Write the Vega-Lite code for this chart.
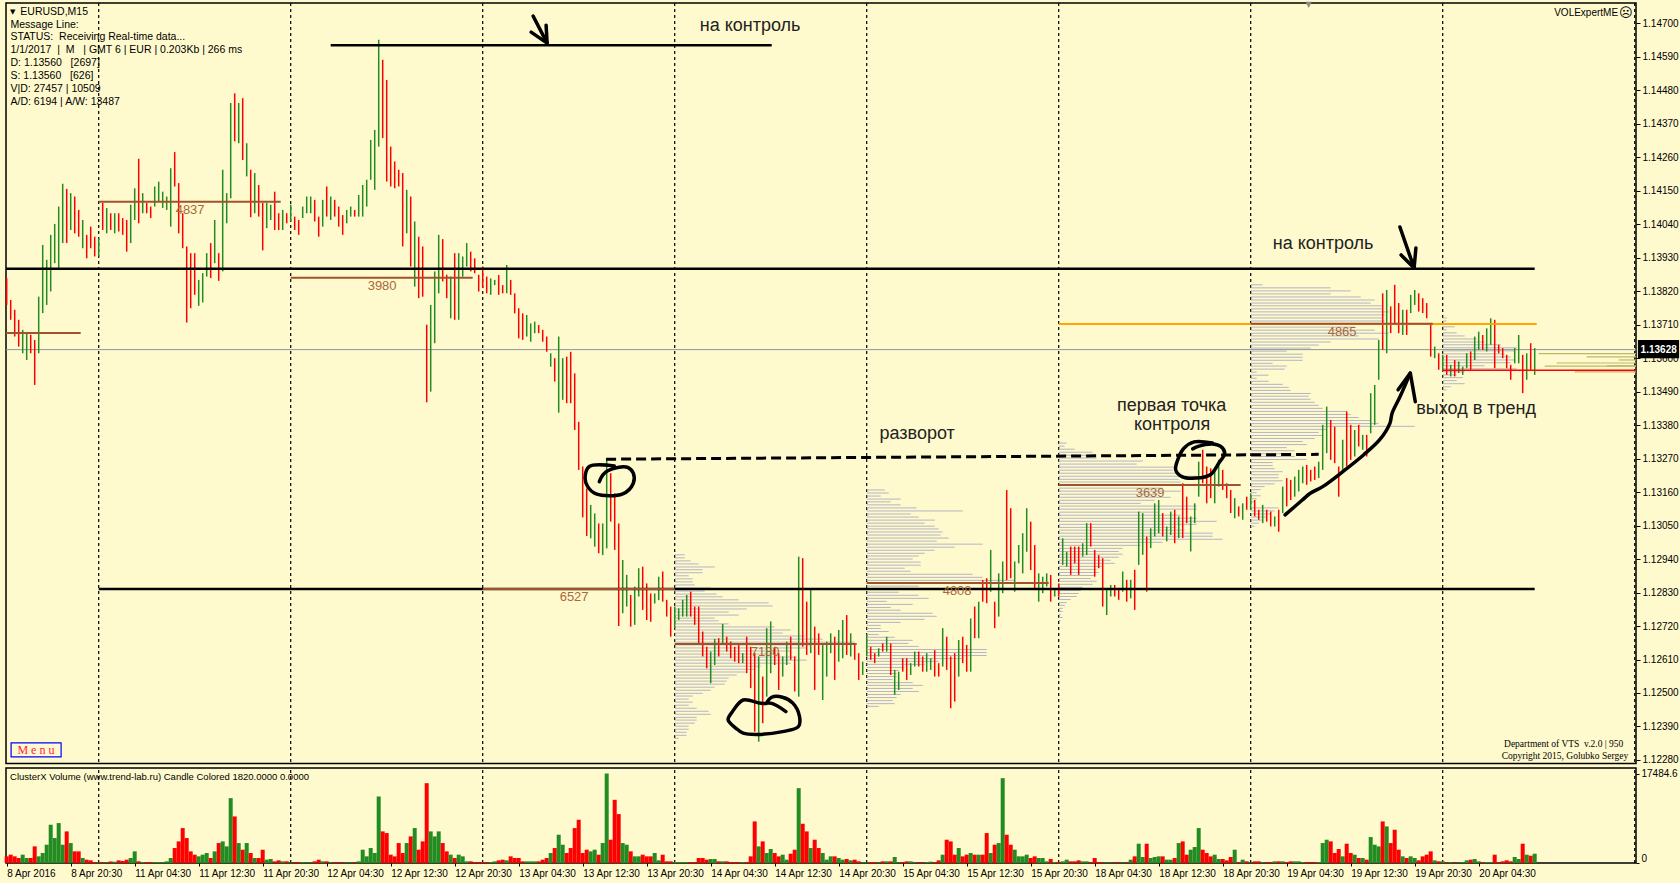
{"$schema":"https://vega.github.io/schema/vega-lite/v6.json","background":"#FFFACD","padding":{"left":3,"top":0,"right":0,"bottom":0},"spacing":0,
"config":{"view":{"fill":"#FFFACD","stroke":"#000000","strokeWidth":1.5},"font":"Liberation Sans"},
"datasets":{
"bars":[{"i":0,"p":1.13863,"q":1.13775,"c":"r","v":1300},{"i":2,"p":1.13791,"q":1.13726,"c":"r","v":1625},{"i":4,"p":1.13759,"q":1.13671,"c":"r","v":1300},{"i":6,"p":1.13726,"q":1.13638,"c":"r","v":975},{"i":8,"p":1.13693,"q":1.13616,"c":"g","v":1625},{"i":10,"p":1.13682,"q":1.13594,"c":"g","v":975},{"i":12,"p":1.13677,"q":1.13616,"c":"r","v":975},{"i":14,"p":1.1366,"q":1.13512,"c":"r","v":3250},{"i":16,"p":1.13802,"q":1.13616,"c":"g","v":1300},{"i":18,"p":1.13972,"q":1.13748,"c":"g","v":1950},{"i":20,"p":1.13923,"q":1.13775,"c":"g","v":3575},{"i":22,"p":1.14005,"q":1.13819,"c":"g","v":7475},{"i":24,"p":1.14041,"q":1.13912,"c":"g","v":4875},{"i":26,"p":1.14098,"q":1.1389,"c":"g","v":7800},{"i":28,"p":1.14173,"q":1.13978,"c":"g","v":3575},{"i":30,"p":1.14156,"q":1.13978,"c":"r","v":6175},{"i":32,"p":1.14142,"q":1.14021,"c":"g","v":3900},{"i":34,"p":1.14131,"q":1.1401,"c":"r","v":2275},{"i":36,"p":1.14087,"q":1.13999,"c":"r","v":2275},{"i":38,"p":1.14054,"q":1.13961,"c":"g","v":975},{"i":40,"p":1.14005,"q":1.13928,"c":"r","v":650},{"i":42,"p":1.14032,"q":1.13961,"c":"r","v":520},{"i":44,"p":1.13999,"q":1.13934,"c":"r","v":200},{"i":46,"p":1.13994,"q":1.13934,"c":"g","v":130},
{"i":48,"p":1.1411,"q":1.14021,"c":"r","v":200},{"i":50,"p":1.14093,"q":1.1401,"c":"g","v":130},{"i":52,"p":1.14076,"q":1.14021,"c":"r","v":300},{"i":54,"p":1.14076,"q":1.1401,"c":"g","v":250},{"i":56,"p":1.14076,"q":1.14016,"c":"r","v":520},{"i":58,"p":1.1406,"q":1.14005,"c":"r","v":400},{"i":60,"p":1.14054,"q":1.1395,"c":"r","v":650},{"i":62,"p":1.14104,"q":1.13978,"c":"g","v":975},{"i":64,"p":1.14158,"q":1.14054,"c":"g","v":2275},{"i":66,"p":1.14255,"q":1.14043,"c":"r","v":325},{"i":68,"p":1.14142,"q":1.14076,"c":"g","v":200},{"i":70,"p":1.1411,"q":1.14076,"c":"r","v":200},{"i":72,"p":1.14098,"q":1.1406,"c":"r","v":200},{"i":74,"p":1.14164,"q":1.14098,"c":"g","v":200},{"i":76,"p":1.1418,"q":1.14115,"c":"g","v":200},{"i":78,"p":1.14147,"q":1.14093,"c":"g","v":200},{"i":80,"p":1.14131,"q":1.14087,"c":"g","v":325},{"i":82,"p":1.14224,"q":1.14032,"c":"g","v":975},{"i":84,"p":1.14277,"q":1.14164,"c":"r","v":2925},{"i":86,"p":1.14175,"q":1.1401,"c":"r","v":4225},{"i":88,"p":1.14076,"q":1.13961,"c":"r","v":6825},{"i":90,"p":1.13967,"q":1.13717,"c":"r","v":4875},{"i":92,"p":1.13945,"q":1.13764,"c":"r","v":2275},{"i":94,"p":1.13945,"q":1.13808,"c":"r","v":1625},{"i":96,"p":1.13857,"q":1.13772,"c":"g","v":1300},{"i":98,"p":1.13879,"q":1.13783,"c":"g","v":1625},{"i":100,"p":1.13945,"q":1.13868,"c":"g","v":1950},{"i":102,"p":1.13978,"q":1.13863,"c":"r","v":975},{"i":104,"p":1.14054,"q":1.13912,"c":"g","v":2275},{"i":106,"p":1.13945,"q":1.13854,"c":"r","v":3900},{"i":108,"p":1.14219,"q":1.13885,"c":"g","v":4225},{"i":110,"p":1.14142,"q":1.14043,"c":"g","v":3250},{"i":112,"p":1.14438,"q":1.14125,"c":"g","v":12675},{"i":114,"p":1.1447,"q":1.14312,"c":"r","v":9100},{"i":116,"p":1.14438,"q":1.14306,"c":"g","v":3900},{"i":118,"p":1.14454,"q":1.14251,"c":"r","v":2600},{"i":120,"p":1.14306,"q":1.14197,"c":"g","v":3900},{"i":122,"p":1.14219,"q":1.14063,"c":"r","v":1950},{"i":124,"p":1.14208,"q":1.14076,"c":"g","v":975},{"i":126,"p":1.14169,"q":1.14065,"c":"r","v":975},{"i":128,"p":1.1411,"q":1.13954,"c":"r","v":2600},{"i":130,"p":1.1411,"q":1.14027,"c":"g","v":650},{"i":132,"p":1.14104,"q":1.14054,"c":"g","v":780},{"i":134,"p":1.14147,"q":1.14021,"c":"r","v":325},{"i":136,"p":1.14076,"q":1.14021,"c":"r","v":520},{"i":138,"p":1.14087,"q":1.14021,"c":"g","v":325},{"i":140,"p":1.14076,"q":1.14043,"c":"r","v":325},{"i":142,"p":1.14104,"q":1.14049,"c":"g","v":130},
{"i":144,"p":1.14065,"q":1.14021,"c":"r","v":130},{"i":146,"p":1.14054,"q":1.14005,"c":"r","v":195},{"i":148,"p":1.14098,"q":1.1406,"c":"g","v":195},{"i":150,"p":1.14131,"q":1.14076,"c":"g","v":130},{"i":152,"p":1.14131,"q":1.14076,"c":"g","v":130},{"i":154,"p":1.1412,"q":1.14049,"c":"r","v":325},{"i":156,"p":1.14065,"q":1.13999,"c":"r","v":650},{"i":158,"p":1.1412,"q":1.14032,"c":"g","v":325},{"i":160,"p":1.14164,"q":1.14065,"c":"r","v":325},{"i":162,"p":1.14131,"q":1.14054,"c":"g","v":130},{"i":164,"p":1.1412,"q":1.14065,"c":"r","v":130},{"i":166,"p":1.14098,"q":1.14032,"c":"r","v":130},{"i":168,"p":1.1407,"q":1.14005,"c":"r","v":130},{"i":170,"p":1.14087,"q":1.14043,"c":"g","v":130},{"i":172,"p":1.14098,"q":1.14065,"c":"g","v":130},{"i":174,"p":1.14087,"q":1.14065,"c":"r","v":130},{"i":176,"p":1.14136,"q":1.14065,"c":"g","v":325},{"i":178,"p":1.14169,"q":1.14065,"c":"g","v":2600},{"i":180,"p":1.14186,"q":1.14098,"c":"g","v":1300},{"i":182,"p":1.14317,"q":1.14186,"c":"g","v":2925},{"i":184,"p":1.1435,"q":1.14153,"c":"g","v":1950},{"i":186,"p":1.14646,"q":1.14295,"c":"g","v":13000},{"i":188,"p":1.1458,"q":1.14323,"c":"r","v":6175},{"i":190,"p":1.14514,"q":1.1418,"c":"r","v":5850},{"i":192,"p":1.14295,"q":1.14164,"c":"r","v":1625},{"i":194,"p":1.14246,"q":1.14158,"c":"r","v":1300},{"i":196,"p":1.14219,"q":1.14164,"c":"r","v":3900},{"i":198,"p":1.14208,"q":1.13967,"c":"r","v":1950},{"i":200,"p":1.14153,"q":1.1401,"c":"g","v":3900},{"i":202,"p":1.14131,"q":1.13901,"c":"r","v":5200},{"i":204,"p":1.14049,"q":1.13835,"c":"g","v":6825},{"i":206,"p":1.13999,"q":1.13797,"c":"r","v":2600},{"i":208,"p":1.13967,"q":1.13802,"c":"r","v":4225},{"i":210,"p":1.1371,"q":1.13455,"c":"r","v":15600},{"i":212,"p":1.13775,"q":1.1349,"c":"g","v":6175},{"i":214,"p":1.13885,"q":1.13649,"c":"g","v":5200},{"i":216,"p":1.14005,"q":1.13813,"c":"g","v":6175},{"i":218,"p":1.13991,"q":1.13852,"c":"r","v":3900},{"i":220,"p":1.13874,"q":1.13797,"c":"r","v":2275},{"i":222,"p":1.13868,"q":1.13731,"c":"g","v":1625},{"i":224,"p":1.13945,"q":1.13726,"c":"r","v":975},{"i":226,"p":1.13945,"q":1.13726,"c":"g","v":1625},{"i":228,"p":1.13934,"q":1.13868,"c":"g","v":1300},{"i":230,"p":1.13978,"q":1.13901,"c":"g","v":325},{"i":232,"p":1.1395,"q":1.13885,"c":"r","v":325},{"i":234,"p":1.13928,"q":1.13879,"c":"r","v":195},{"i":236,"p":1.13874,"q":1.13819,"c":"r","v":195},{"i":238,"p":1.13901,"q":1.1383,"c":"r","v":195},
{"i":240,"p":1.13868,"q":1.13813,"c":"r","v":195},{"i":242,"p":1.13862,"q":1.13808,"c":"g","v":195},{"i":244,"p":1.13857,"q":1.1384,"c":"g","v":325},{"i":246,"p":1.13873,"q":1.13808,"c":"r","v":520},{"i":248,"p":1.1384,"q":1.13813,"c":"r","v":650},{"i":250,"p":1.13906,"q":1.13813,"c":"g","v":520},{"i":252,"p":1.13857,"q":1.13808,"c":"r","v":1300},{"i":254,"p":1.13813,"q":1.13747,"c":"r","v":975},{"i":256,"p":1.13764,"q":1.13665,"c":"r","v":975},{"i":258,"p":1.13747,"q":1.1366,"c":"r","v":325},{"i":260,"p":1.13742,"q":1.13671,"c":"g","v":325},{"i":262,"p":1.13714,"q":1.13654,"c":"g","v":325},{"i":264,"p":1.1372,"q":1.13682,"c":"g","v":325},{"i":266,"p":1.13709,"q":1.13682,"c":"r","v":325},{"i":268,"p":1.13693,"q":1.13654,"c":"r","v":650},{"i":270,"p":1.13671,"q":1.13621,"c":"r","v":975},{"i":272,"p":1.13616,"q":1.13572,"c":"g","v":1950},{"i":274,"p":1.136,"q":1.13523,"c":"r","v":2925},{"i":276,"p":1.13671,"q":1.13421,"c":"g","v":5525},{"i":278,"p":1.136,"q":1.13463,"c":"g","v":3575},{"i":280,"p":1.13605,"q":1.13452,"c":"r","v":1950},{"i":282,"p":1.13621,"q":1.13452,"c":"r","v":2925},{"i":284,"p":1.1355,"q":1.13364,"c":"r","v":6825},{"i":286,"p":1.13391,"q":1.13233,"c":"r","v":8450},{"i":288,"p":1.13244,"q":1.13077,"c":"r","v":1950},{"i":290,"p":1.13172,"q":1.13016,"c":"r","v":2600},{"i":292,"p":1.13118,"q":1.13008,"c":"g","v":2275},{"i":294,"p":1.1309,"q":1.12981,"c":"g","v":2600},{"i":296,"p":1.13057,"q":1.12959,"c":"r","v":1625},{"i":298,"p":1.13057,"q":1.12953,"c":"g","v":3900},{"i":300,"p":1.13271,"q":1.12975,"c":"g","v":17484},{"i":302,"p":1.13222,"q":1.13063,"c":"r","v":4550},{"i":304,"p":1.13156,"q":1.1297,"c":"r","v":12350},{"i":306,"p":1.13057,"q":1.1272,"c":"r","v":9555},{"i":308,"p":1.12937,"q":1.12762,"c":"g","v":3900},{"i":310,"p":1.12888,"q":1.12784,"c":"g","v":3575},{"i":312,"p":1.12822,"q":1.12718,"c":"r","v":2275},{"i":314,"p":1.12849,"q":1.12724,"c":"g","v":1300},{"i":316,"p":1.1291,"q":1.12817,"c":"g","v":1300},{"i":318,"p":1.12915,"q":1.12773,"c":"r","v":1625},{"i":320,"p":1.1286,"q":1.1274,"c":"r","v":1300},{"i":322,"p":1.12827,"q":1.12734,"c":"r","v":1300},{"i":324,"p":1.12827,"q":1.12794,"c":"g","v":1950},{"i":326,"p":1.12882,"q":1.12805,"c":"g","v":520},
{"i":328,"p":1.12899,"q":1.128,"c":"r","v":1625},{"i":330,"p":1.12806,"q":1.12751,"c":"r","v":325},{"i":332,"p":1.12784,"q":1.12685,"c":"r","v":325},{"i":334,"p":1.12784,"q":1.12713,"c":"g","v":195},{"i":336,"p":1.12778,"q":1.1274,"c":"g","v":195},{"i":338,"p":1.12806,"q":1.12751,"c":"g","v":195},{"i":340,"p":1.12822,"q":1.12751,"c":"g","v":195},{"i":342,"p":1.12833,"q":1.12751,"c":"r","v":195},{"i":344,"p":1.12784,"q":1.12724,"c":"r","v":195},{"i":346,"p":1.12784,"q":1.12663,"c":"r","v":975},{"i":348,"p":1.12702,"q":1.1262,"c":"r","v":975},{"i":350,"p":1.12652,"q":1.12581,"c":"r","v":650},{"i":352,"p":1.12636,"q":1.12532,"c":"g","v":780},{"i":354,"p":1.12678,"q":1.12592,"c":"g","v":780},{"i":356,"p":1.1268,"q":1.1262,"c":"r","v":325},{"i":358,"p":1.12727,"q":1.12658,"c":"g","v":325},{"i":360,"p":1.12685,"q":1.12636,"c":"r","v":325},{"i":362,"p":1.12669,"q":1.12614,"c":"r","v":195},{"i":364,"p":1.12652,"q":1.12603,"c":"r","v":195},{"i":366,"p":1.12658,"q":1.12598,"c":"r","v":195},{"i":368,"p":1.12631,"q":1.12598,"c":"g","v":195},{"i":370,"p":1.12685,"q":1.12565,"c":"r","v":195},{"i":372,"p":1.12652,"q":1.12516,"c":"r","v":1300},{"i":374,"p":1.12631,"q":1.12373,"c":"r","v":8125},{"i":376,"p":1.1262,"q":1.1234,"c":"g","v":3250},{"i":378,"p":1.12554,"q":1.12401,"c":"r","v":4225},{"i":380,"p":1.12713,"q":1.12488,"c":"g","v":1950},{"i":382,"p":1.12735,"q":1.12565,"c":"g","v":2730},{"i":384,"p":1.12652,"q":1.12592,"c":"r","v":1950},{"i":386,"p":1.12631,"q":1.1251,"c":"r","v":1300},{"i":388,"p":1.1262,"q":1.12554,"c":"g","v":1625},{"i":390,"p":1.12669,"q":1.12592,"c":"g","v":650},{"i":392,"p":1.12685,"q":1.12609,"c":"r","v":1820},{"i":394,"p":1.1262,"q":1.12505,"c":"r","v":2600},{"i":396,"p":1.12948,"q":1.12488,"c":"g","v":14625},{"i":398,"p":1.12943,"q":1.12652,"c":"r","v":7670},{"i":400,"p":1.128,"q":1.12625,"c":"r","v":6175},{"i":402,"p":1.12839,"q":1.12631,"c":"g","v":2925},{"i":404,"p":1.12718,"q":1.1251,"c":"r","v":4550},{"i":406,"p":1.12696,"q":1.12625,"c":"r","v":2925},{"i":408,"p":1.12663,"q":1.12477,"c":"g","v":1950},{"i":410,"p":1.12669,"q":1.12554,"c":"g","v":650},{"i":412,"p":1.12696,"q":1.12631,"c":"g","v":1300},{"i":414,"p":1.12685,"q":1.12543,"c":"r","v":1300},{"i":416,"p":1.12707,"q":1.12603,"c":"g","v":975},{"i":418,"p":1.1274,"q":1.12614,"c":"g","v":650},{"i":420,"p":1.12756,"q":1.12625,"c":"r","v":780},{"i":422,"p":1.12696,"q":1.1262,"c":"g","v":520},{"i":424,"p":1.12663,"q":1.12609,"c":"r","v":650},{"i":426,"p":1.12631,"q":1.12543,"c":"r","v":325},{"i":428,"p":1.12603,"q":1.12559,"c":"g","v":130},{"i":430,"p":1.12691,"q":1.1262,"c":"g","v":130},{"i":432,"p":1.12652,"q":1.12609,"c":"r","v":195},{"i":434,"p":1.12631,"q":1.12598,"c":"r","v":195},{"i":436,"p":1.12647,"q":1.1262,"c":"g","v":130},{"i":438,"p":1.12663,"q":1.12636,"c":"r","v":325},{"i":440,"p":1.12685,"q":1.12636,"c":"g","v":325},{"i":442,"p":1.12663,"q":1.12559,"c":"r","v":325},{"i":444,"p":1.12576,"q":1.12494,"c":"g","v":1170},{"i":446,"p":1.1257,"q":1.1251,"c":"g","v":130},{"i":448,"p":1.12614,"q":1.1257,"c":"r","v":195},{"i":450,"p":1.12614,"q":1.12543,"c":"r","v":325},{"i":452,"p":1.12598,"q":1.12559,"c":"g","v":325},{"i":454,"p":1.12636,"q":1.12587,"c":"g","v":130},{"i":456,"p":1.12636,"q":1.12587,"c":"r","v":130},{"i":458,"p":1.1262,"q":1.1257,"c":"r","v":130},{"i":460,"p":1.12631,"q":1.1257,"c":"g","v":195},{"i":462,"p":1.12614,"q":1.12576,"c":"g","v":260},{"i":464,"p":1.12641,"q":1.12554,"c":"r","v":195},{"i":466,"p":1.12598,"q":1.12554,"c":"r","v":520},{"i":468,"p":1.12713,"q":1.12587,"c":"g","v":1625},{"i":470,"p":1.12685,"q":1.12576,"c":"r","v":4550},{"i":472,"p":1.1262,"q":1.1245,"c":"r","v":4225},{"i":474,"p":1.12631,"q":1.12472,"c":"r","v":1625},{"i":476,"p":1.12674,"q":1.12554,"c":"g","v":2925},{"i":478,"p":1.12685,"q":1.12598,"c":"r","v":1300},{"i":480,"p":1.12658,"q":1.1257,"c":"r","v":1625},{"i":482,"p":1.12745,"q":1.1257,"c":"g","v":1950},{"i":484,"p":1.12784,"q":1.1268,"c":"r","v":1625},{"i":486,"p":1.128,"q":1.1268,"c":"g","v":1625},{"i":488,"p":1.12871,"q":1.128,"c":"r","v":1625},{"i":490,"p":1.12877,"q":1.12795,"c":"r","v":5850},{"i":492,"p":1.1297,"q":1.12833,"c":"g","v":1950},{"i":494,"p":1.128,"q":1.12713,"c":"r","v":3575},{"i":496,"p":1.12893,"q":1.12751,"c":"g","v":3900},{"i":498,"p":1.12932,"q":1.12828,"c":"g","v":16575},{"i":500,"p":1.13167,"q":1.12871,"c":"r","v":5525},{"i":502,"p":1.13107,"q":1.12877,"c":"r","v":3575},{"i":504,"p":1.12932,"q":1.12833,"c":"g","v":2600},{"i":506,"p":1.12986,"q":1.12926,"c":"g","v":1300},{"i":508,"p":1.13025,"q":1.12893,"c":"g","v":1300},{"i":510,"p":1.13107,"q":1.12964,"c":"g","v":1625},{"i":512,"p":1.13063,"q":1.12904,"c":"r","v":975},{"i":514,"p":1.12986,"q":1.12839,"c":"r","v":1300},{"i":516,"p":1.12893,"q":1.128,"c":"g","v":975},{"i":518,"p":1.12882,"q":1.12828,"c":"g","v":975},{"i":520,"p":1.12893,"q":1.1285,"c":"g","v":325},{"i":522,"p":1.12888,"q":1.128,"c":"r","v":780},{"i":524,"p":1.12844,"q":1.12817,"c":"g","v":195},{"i":526,"p":1.1286,"q":1.12817,"c":"r","v":195},{"i":528,"p":1.13008,"q":1.12921,"c":"g","v":325},{"i":530,"p":1.12964,"q":1.12915,"c":"g","v":650},{"i":532,"p":1.12981,"q":1.12888,"c":"r","v":325},{"i":534,"p":1.12981,"q":1.12926,"c":"r","v":325},{"i":536,"p":1.12981,"q":1.12888,"c":"r","v":520},{"i":538,"p":1.12992,"q":1.12948,"c":"g","v":325},{"i":540,"p":1.13058,"q":1.12953,"c":"g","v":325},{"i":542,"p":1.13058,"q":1.12981,"c":"r","v":130},{"i":544,"p":1.1297,"q":1.12882,"c":"r","v":975},{"i":546,"p":1.12953,"q":1.1291,"c":"r","v":195},{"i":548,"p":1.12943,"q":1.12784,"c":"r","v":130},{"i":550,"p":1.12839,"q":1.12756,"c":"g","v":130},{"i":552,"p":1.12855,"q":1.12817,"c":"g","v":130},{"i":554,"p":1.12855,"q":1.12817,"c":"r","v":130},{"i":556,"p":1.12844,"q":1.12806,"c":"r","v":130},
{"i":558,"p":1.12899,"q":1.12833,"c":"g","v":130},{"i":560,"p":1.12872,"q":1.128,"c":"r","v":130},{"i":562,"p":1.12872,"q":1.12811,"c":"g","v":650},{"i":564,"p":1.12905,"q":1.12773,"c":"r","v":1300},{"i":566,"p":1.13096,"q":1.12921,"c":"g","v":3770},{"i":568,"p":1.13091,"q":1.12954,"c":"g","v":1170},{"i":570,"p":1.13014,"q":1.12833,"c":"r","v":3770},{"i":572,"p":1.13041,"q":1.12976,"c":"g","v":975},{"i":574,"p":1.13123,"q":1.13014,"c":"g","v":1170},{"i":576,"p":1.13134,"q":1.13025,"c":"g","v":1300},{"i":578,"p":1.13091,"q":1.13014,"c":"r","v":1300},{"i":580,"p":1.13047,"q":1.12998,"c":"g","v":650},{"i":582,"p":1.13096,"q":1.13019,"c":"g","v":650},{"i":584,"p":1.13102,"q":1.12992,"c":"r","v":975},{"i":586,"p":1.1308,"q":1.13009,"c":"g","v":3900},{"i":588,"p":1.13189,"q":1.13009,"c":"r","v":4225},{"i":590,"p":1.13145,"q":1.13058,"c":"r","v":1625},{"i":592,"p":1.1308,"q":1.12965,"c":"g","v":2600},{"i":594,"p":1.13123,"q":1.13058,"c":"g","v":3120},{"i":596,"p":1.1326,"q":1.13145,"c":"g","v":6825},{"i":598,"p":1.13299,"q":1.13189,"c":"r","v":2600},{"i":600,"p":1.13244,"q":1.13123,"c":"r","v":1950},{"i":602,"p":1.13238,"q":1.1314,"c":"r","v":1300},{"i":604,"p":1.13233,"q":1.13123,"c":"g","v":1625},{"i":606,"p":1.13266,"q":1.13178,"c":"g","v":780},{"i":608,"p":1.13233,"q":1.13167,"c":"r","v":780},{"i":610,"p":1.13189,"q":1.1314,"c":"r","v":520},{"i":612,"p":1.13167,"q":1.13091,"c":"r","v":1170},{"i":614,"p":1.1314,"q":1.13074,"c":"g","v":2600},{"i":616,"p":1.13113,"q":1.1308,"c":"r","v":195},{"i":618,"p":1.13123,"q":1.13069,"c":"g","v":650},{"i":620,"p":1.13145,"q":1.13102,"c":"r","v":325},{"i":622,"p":1.13156,"q":1.13102,"c":"g","v":130},{"i":624,"p":1.13134,"q":1.1308,"c":"r","v":325},{"i":626,"p":1.13102,"q":1.13069,"c":"r","v":325},{"i":628,"p":1.13118,"q":1.13058,"c":"g","v":130},{"i":630,"p":1.13102,"q":1.13063,"c":"r","v":130},{"i":632,"p":1.13096,"q":1.13047,"c":"r","v":195},{"i":634,"p":1.1308,"q":1.13047,"c":"g","v":325},{"i":636,"p":1.13102,"q":1.1303,"c":"r","v":325},{"i":638,"p":1.13178,"q":1.13091,"c":"g","v":325},{"i":640,"p":1.13206,"q":1.13113,"c":"r","v":195},{"i":642,"p":1.132,"q":1.13134,"c":"r","v":325},{"i":644,"p":1.13211,"q":1.13145,"c":"g","v":325},{"i":646,"p":1.13233,"q":1.13162,"c":"g","v":325},{"i":648,"p":1.13244,"q":1.13189,"c":"g","v":195},{"i":650,"p":1.13249,"q":1.13184,"c":"r","v":195},{"i":652,"p":1.13233,"q":1.13195,"c":"r","v":130},{"i":654,"p":1.13244,"q":1.132,"c":"r","v":195},{"i":656,"p":1.1326,"q":1.13206,"c":"g","v":195},{"i":658,"p":1.13381,"q":1.13233,"c":"g","v":3900},{"i":660,"p":1.13441,"q":1.13288,"c":"g","v":4550},{"i":662,"p":1.13397,"q":1.13266,"c":"r","v":4225},{"i":664,"p":1.13375,"q":1.13255,"c":"r","v":1950},{"i":666,"p":1.13244,"q":1.13145,"c":"r","v":2730},{"i":668,"p":1.13332,"q":1.13222,"c":"g","v":1300},{"i":670,"p":1.13425,"q":1.13244,"c":"r","v":3770},{"i":672,"p":1.13381,"q":1.13266,"c":"r","v":1950},{"i":674,"p":1.13364,"q":1.13277,"c":"g","v":1625},{"i":676,"p":1.13381,"q":1.1331,"c":"r","v":975},{"i":678,"p":1.13348,"q":1.13299,"c":"g","v":975},{"i":680,"p":1.13348,"q":1.13277,"c":"r","v":650},{"i":682,"p":1.13485,"q":1.13353,"c":"g","v":5070},{"i":684,"p":1.13512,"q":1.13381,"c":"g","v":3575},{"i":686,"p":1.1366,"q":1.13529,"c":"g","v":3250},{"i":688,"p":1.13813,"q":1.13627,"c":"r","v":8125},{"i":690,"p":1.13824,"q":1.13616,"c":"g","v":7150},{"i":692,"p":1.1377,"q":1.13682,"c":"r","v":3900},{"i":694,"p":1.13841,"q":1.13715,"c":"r","v":6500},{"i":696,"p":1.13781,"q":1.13682,"c":"r","v":2600},{"i":698,"p":1.13759,"q":1.13676,"c":"g","v":1300},{"i":700,"p":1.13759,"q":1.13676,"c":"r","v":975},{"i":702,"p":1.13808,"q":1.13748,"c":"g","v":1300},{"i":704,"p":1.13824,"q":1.13775,"c":"g","v":975},{"i":706,"p":1.13813,"q":1.13753,"c":"r","v":520},{"i":708,"p":1.13797,"q":1.13748,"c":"r","v":1300},{"i":710,"p":1.13781,"q":1.13731,"c":"r","v":1625},{"i":712,"p":1.13715,"q":1.13605,"c":"r","v":2275},{"i":714,"p":1.13638,"q":1.136,"c":"g","v":520},{"i":716,"p":1.13616,"q":1.13562,"c":"r","v":325},{"i":718,"p":1.13611,"q":1.13556,"c":"g","v":325},{"i":720,"p":1.13611,"q":1.13545,"c":"r","v":130},{"i":722,"p":1.13578,"q":1.1354,"c":"g","v":195},{"i":724,"p":1.13594,"q":1.1354,"c":"r","v":130},{"i":726,"p":1.13589,"q":1.13551,"c":"g","v":130},{"i":728,"p":1.13572,"q":1.13545,"c":"g","v":195},{"i":730,"p":1.13616,"q":1.13567,"c":"g","v":520},{"i":732,"p":1.13622,"q":1.13562,"c":"r","v":650},{"i":734,"p":1.13671,"q":1.13594,"c":"g","v":780},{"i":736,"p":1.13687,"q":1.13627,"c":"g","v":325},{"i":738,"p":1.13676,"q":1.13627,"c":"r","v":195},{"i":740,"p":1.13698,"q":1.13622,"c":"g","v":195},{"i":742,"p":1.13731,"q":1.13644,"c":"g","v":195},{"i":744,"p":1.13726,"q":1.13567,"c":"r","v":1625},{"i":746,"p":1.13644,"q":1.13616,"c":"r","v":195},{"i":748,"p":1.13633,"q":1.136,"c":"r","v":325},{"i":750,"p":1.13611,"q":1.13567,"c":"r","v":520},{"i":752,"p":1.13578,"q":1.13529,"c":"r","v":325},{"i":754,"p":1.13633,"q":1.13583,"c":"g","v":1170},{"i":756,"p":1.13676,"q":1.13583,"c":"g","v":780},{"i":758,"p":1.13611,"q":1.13485,"c":"r","v":3770},{"i":760,"p":1.13616,"q":1.13529,"c":"g","v":1625},{"i":762,"p":1.13649,"q":1.13562,"c":"r","v":1430},{"i":764,"p":1.13633,"q":1.13545,"c":"g","v":1820}],
"prof":[{"i":334,"j":339,"p":1.12954},{"i":334,"j":339,"p":1.12944},{"i":334,"j":342,"p":1.12934},{"i":334,"j":346,"p":1.12924},{"i":334,"j":354,"p":1.12914},{"i":334,"j":348,"p":1.12905},{"i":334,"j":348,"p":1.12895},{"i":334,"j":341,"p":1.12885},{"i":334,"j":343,"p":1.12875},{"i":334,"j":343,"p":1.12865},{"i":334,"j":344,"p":1.12855},{"i":334,"j":352,"p":1.12845},{"i":334,"j":349,"p":1.12835},{"i":334,"j":355,"p":1.12825},{"i":334,"j":358,"p":1.12816},{"i":334,"j":366,"p":1.12806},{"i":334,"j":381,"p":1.12796},{"i":334,"j":383,"p":1.12786},{"i":334,"j":370,"p":1.12776},{"i":334,"j":361,"p":1.12766},{"i":334,"j":366,"p":1.12756},{"i":334,"j":354,"p":1.12746},{"i":334,"j":356,"p":1.12737},{"i":334,"j":361,"p":1.12727},{"i":334,"j":384,"p":1.12717},{"i":334,"j":392,"p":1.12707},{"i":334,"j":388,"p":1.12697},{"i":334,"j":399,"p":1.12687},{"i":334,"j":408,"p":1.12677},{"i":334,"j":424,"p":1.12667},{"i":334,"j":402,"p":1.12658},{"i":334,"j":400,"p":1.12648},{"i":334,"j":392,"p":1.12638},{"i":334,"j":386,"p":1.12628},{"i":334,"j":395,"p":1.12618},{"i":334,"j":400,"p":1.12608},{"i":334,"j":392,"p":1.12598},{"i":334,"j":377,"p":1.12588},{"i":334,"j":374,"p":1.12578},{"i":334,"j":370,"p":1.12569},{"i":334,"j":365,"p":1.12559},{"i":334,"j":361,"p":1.12549},{"i":334,"j":360,"p":1.12539},{"i":334,"j":359,"p":1.12529},{"i":334,"j":354,"p":1.12519},{"i":334,"j":352,"p":1.12509},{"i":334,"j":348,"p":1.12499},{"i":334,"j":343,"p":1.1249},{"i":334,"j":341,"p":1.1248},{"i":334,"j":343,"p":1.1247},{"i":334,"j":341,"p":1.1246},{"i":334,"j":345,"p":1.1245},{"i":334,"j":351,"p":1.1244},{"i":334,"j":352,"p":1.1243},{"i":334,"j":345,"p":1.1242},{"i":334,"j":345,"p":1.12411},{"i":334,"j":344,"p":1.12401},{"i":334,"j":341,"p":1.12391},{"i":334,"j":341,"p":1.12381},{"i":334,"j":340,"p":1.12371},{"i":334,"j":340,"p":1.12361},{"i":334,"j":336,"p":1.12351},
{"i":430,"j":439,"p":1.13167},{"i":430,"j":441,"p":1.13157},{"i":430,"j":437,"p":1.13147},{"i":430,"j":447,"p":1.13137},{"i":430,"j":442,"p":1.13128},{"i":430,"j":447,"p":1.13118},{"i":430,"j":455,"p":1.13108},{"i":430,"j":478,"p":1.13098},{"i":430,"j":452,"p":1.13088},{"i":430,"j":456,"p":1.13078},{"i":430,"j":464,"p":1.13068},{"i":430,"j":459,"p":1.13058},{"i":430,"j":464,"p":1.13048},{"i":430,"j":466,"p":1.13039},{"i":430,"j":468,"p":1.13029},{"i":430,"j":467,"p":1.13019},{"i":430,"j":471,"p":1.13009},{"i":430,"j":465,"p":1.12999},{"i":430,"j":488,"p":1.12989},{"i":430,"j":474,"p":1.12979},{"i":430,"j":464,"p":1.12969},{"i":430,"j":459,"p":1.12959},{"i":430,"j":456,"p":1.1295},{"i":430,"j":453,"p":1.1294},{"i":430,"j":457,"p":1.1293},{"i":430,"j":457,"p":1.1292},{"i":430,"j":449,"p":1.1291},{"i":430,"j":452,"p":1.129},{"i":430,"j":483,"p":1.1289},{"i":430,"j":488,"p":1.1288},{"i":430,"j":504,"p":1.1287},{"i":430,"j":520,"p":1.12861},{"i":430,"j":456,"p":1.12851},{"i":430,"j":456,"p":1.12841},{"i":430,"j":446,"p":1.12831},{"i":430,"j":456,"p":1.12821},{"i":430,"j":461,"p":1.12811},{"i":430,"j":440,"p":1.12801},{"i":430,"j":453,"p":1.12791},{"i":430,"j":442,"p":1.12781},{"i":430,"j":447,"p":1.12772},{"i":430,"j":463,"p":1.12762},{"i":430,"j":465,"p":1.12752},{"i":430,"j":459,"p":1.12742},{"i":430,"j":447,"p":1.12732},{"i":430,"j":437,"p":1.12722},{"i":430,"j":437,"p":1.12712},{"i":430,"j":441,"p":1.12702},{"i":430,"j":436,"p":1.12692},{"i":430,"j":444,"p":1.12683},{"i":430,"j":453,"p":1.12673},{"i":430,"j":451,"p":1.12663},{"i":430,"j":456,"p":1.12653},{"i":430,"j":490,"p":1.12643},{"i":430,"j":490,"p":1.12633},{"i":430,"j":490,"p":1.12623},{"i":430,"j":478,"p":1.12613},{"i":430,"j":466,"p":1.12604},{"i":430,"j":459,"p":1.12594},{"i":430,"j":449,"p":1.12584},{"i":430,"j":446,"p":1.12574},{"i":430,"j":445,"p":1.12564},{"i":430,"j":445,"p":1.12554},{"i":430,"j":443,"p":1.12544},{"i":430,"j":453,"p":1.12534},{"i":430,"j":458,"p":1.12525},{"i":430,"j":453,"p":1.12515},{"i":430,"j":456,"p":1.12505},{"i":430,"j":447,"p":1.12495},{"i":430,"j":445,"p":1.12485},{"i":430,"j":443,"p":1.12475},{"i":430,"j":444,"p":1.12465},{"i":430,"j":436,"p":1.12456},
{"i":526,"j":530,"p":1.13321},{"i":526,"j":529,"p":1.13311},{"i":526,"j":534,"p":1.13301},{"i":526,"j":543,"p":1.13291},{"i":526,"j":544,"p":1.13281},{"i":526,"j":545,"p":1.13272},{"i":526,"j":568,"p":1.13262},{"i":526,"j":565,"p":1.13252},{"i":526,"j":585,"p":1.13242},{"i":526,"j":583,"p":1.13232},{"i":526,"j":585,"p":1.13222},{"i":526,"j":595,"p":1.13212},{"i":526,"j":586,"p":1.13202},{"i":526,"j":587,"p":1.13193},{"i":526,"j":591,"p":1.13183},{"i":526,"j":578,"p":1.13173},{"i":526,"j":587,"p":1.13163},{"i":526,"j":576,"p":1.13153},{"i":526,"j":582,"p":1.13143},{"i":526,"j":574,"p":1.13133},{"i":526,"j":567,"p":1.13123},{"i":526,"j":595,"p":1.13114},{"i":526,"j":595,"p":1.13104},{"i":526,"j":576,"p":1.13094},{"i":526,"j":587,"p":1.13084},{"i":526,"j":595,"p":1.13074},{"i":526,"j":605,"p":1.13064},{"i":526,"j":595,"p":1.13054},{"i":526,"j":585,"p":1.13044},{"i":526,"j":589,"p":1.13035},{"i":526,"j":603,"p":1.13025},{"i":526,"j":603,"p":1.13015},{"i":526,"j":608,"p":1.13005},{"i":526,"j":578,"p":1.12995},{"i":526,"j":567,"p":1.12985},{"i":526,"j":558,"p":1.12975},{"i":526,"j":556,"p":1.12965},{"i":526,"j":558,"p":1.12956},{"i":526,"j":556,"p":1.12946},{"i":526,"j":552,"p":1.12936},{"i":526,"j":554,"p":1.12926},{"i":526,"j":548,"p":1.12916},{"i":526,"j":545,"p":1.12906},{"i":526,"j":546,"p":1.12896},{"i":526,"j":544,"p":1.12886},{"i":526,"j":542,"p":1.12876},{"i":526,"j":545,"p":1.12867},{"i":526,"j":543,"p":1.12857},{"i":526,"j":538,"p":1.12847},{"i":526,"j":537,"p":1.12837},{"i":526,"j":536,"p":1.12827},{"i":526,"j":535,"p":1.12817},{"i":526,"j":532,"p":1.12807},{"i":526,"j":530,"p":1.12797},{"i":526,"j":529,"p":1.12788},{"i":526,"j":528,"p":1.12778},{"i":526,"j":528,"p":1.12768},{"i":526,"j":527,"p":1.12758},{"i":526,"j":528,"p":1.12748},{"i":526,"j":527,"p":1.12738},
{"i":622,"j":628,"p":1.13841},{"i":622,"j":662,"p":1.13831},{"i":622,"j":672,"p":1.13821},{"i":622,"j":662,"p":1.13811},{"i":622,"j":677,"p":1.13801},{"i":622,"j":684,"p":1.13791},{"i":622,"j":682,"p":1.13781},{"i":622,"j":688,"p":1.13772},{"i":622,"j":688,"p":1.13762},{"i":622,"j":691,"p":1.13752},{"i":622,"j":689,"p":1.13742},{"i":622,"j":688,"p":1.13732},{"i":622,"j":689,"p":1.13722},{"i":622,"j":680,"p":1.13712},{"i":622,"j":674,"p":1.13702},{"i":622,"j":684,"p":1.13692},{"i":622,"j":691,"p":1.13682},{"i":622,"j":676,"p":1.13673},{"i":622,"j":686,"p":1.13663},{"i":622,"j":662,"p":1.13653},{"i":622,"j":656,"p":1.13643},{"i":622,"j":652,"p":1.13633},{"i":622,"j":640,"p":1.13623},{"i":622,"j":648,"p":1.13613},{"i":622,"j":648,"p":1.13603},{"i":622,"j":648,"p":1.13593},{"i":622,"j":633,"p":1.13583},{"i":622,"j":640,"p":1.13574},{"i":622,"j":639,"p":1.13564},{"i":622,"j":625,"p":1.13554},{"i":622,"j":631,"p":1.13544},{"i":622,"j":625,"p":1.13534},{"i":622,"j":631,"p":1.13524},{"i":622,"j":638,"p":1.13514},{"i":622,"j":641,"p":1.13504},{"i":622,"j":642,"p":1.13494},{"i":622,"j":652,"p":1.13484},{"i":622,"j":651,"p":1.13475},{"i":622,"j":652,"p":1.13465},{"i":622,"j":654,"p":1.13455},{"i":622,"j":656,"p":1.13445},{"i":622,"j":658,"p":1.13435},{"i":622,"j":670,"p":1.13425},{"i":622,"j":672,"p":1.13415},{"i":622,"j":676,"p":1.13405},{"i":622,"j":682,"p":1.13395},{"i":622,"j":686,"p":1.13385},{"i":622,"j":704,"p":1.13376},{"i":622,"j":660,"p":1.13366},{"i":622,"j":656,"p":1.13356},{"i":622,"j":658,"p":1.13346},{"i":622,"j":654,"p":1.13336},{"i":622,"j":648,"p":1.13326},{"i":622,"j":650,"p":1.13316},{"i":622,"j":640,"p":1.13306},{"i":622,"j":644,"p":1.13296},{"i":622,"j":642,"p":1.13286},{"i":622,"j":644,"p":1.13277},{"i":622,"j":650,"p":1.13267},{"i":622,"j":633,"p":1.13257},{"i":622,"j":633,"p":1.13247},{"i":622,"j":634,"p":1.13237},{"i":622,"j":638,"p":1.13227},{"i":622,"j":636,"p":1.13217},{"i":622,"j":636,"p":1.13207},{"i":622,"j":638,"p":1.13197},{"i":622,"j":634,"p":1.13187},{"i":622,"j":629,"p":1.13178},{"i":622,"j":627,"p":1.13168},{"i":622,"j":625,"p":1.13158},{"i":622,"j":627,"p":1.13148},{"i":622,"j":625,"p":1.13138},{"i":622,"j":624,"p":1.13128},{"i":622,"j":622,"p":1.13118},{"i":622,"j":636,"p":1.13108},{"i":622,"j":634,"p":1.13098},{"i":622,"j":632,"p":1.13088},{"i":622,"j":630,"p":1.13078},{"i":622,"j":628,"p":1.13068},{"i":622,"j":626,"p":1.13058},{"i":622,"j":624,"p":1.13048},
{"i":718,"j":720,"p":1.13732},{"i":718,"j":720,"p":1.13722},{"i":718,"j":720,"p":1.13712},{"i":718,"j":724,"p":1.13703},{"i":718,"j":720,"p":1.13693},{"i":718,"j":725,"p":1.13683},{"i":718,"j":729,"p":1.13673},{"i":718,"j":735,"p":1.13663},{"i":718,"j":739,"p":1.13653},{"i":718,"j":747,"p":1.13644},{"i":718,"j":755,"p":1.13634},{"i":718,"j":754,"p":1.13624},{"i":718,"j":749,"p":1.13614},{"i":718,"j":752,"p":1.13604},{"i":718,"j":754,"p":1.13594},{"i":718,"j":752,"p":1.13585},{"i":718,"j":739,"p":1.13575},{"i":718,"j":755,"p":1.13565},{"i":718,"j":729,"p":1.13555},{"i":718,"j":725,"p":1.13545},{"i":718,"j":728,"p":1.13536},{"i":718,"j":725,"p":1.13526},{"i":718,"j":729,"p":1.13516},{"i":718,"j":722,"p":1.13506},{"i":718,"j":720,"p":1.13496}],
"vert":[{"i":46,"p":1.147667,"q":1.122684,"v":0,"w":18564},{"i":142,"p":1.147667,"q":1.122684,"v":0,"w":18564},{"i":238,"p":1.147667,"q":1.122684,"v":0,"w":18564},{"i":334,"p":1.147667,"q":1.122684,"v":0,"w":18564},{"i":430,"p":1.147667,"q":1.122684,"v":0,"w":18564},{"i":526,"p":1.147667,"q":1.122684,"v":0,"w":18564},{"i":622,"p":1.147667,"q":1.122684,"v":0,"w":18564},{"i":718,"p":1.147667,"q":1.122684,"v":0,"w":18564},{"i":814,"p":1.147667,"q":1.122684,"v":0,"w":18564}],
"sketch":[
{"g":"c1","o":1,"i":296.3,"p":1.13194},{"g":"c1","o":2,"i":298,"p":1.13216},{"g":"c1","o":3,"i":300.5,"p":1.1323},{"g":"c1","o":4,"i":305.5,"p":1.13241},{"g":"c1","o":5,"i":310.5,"p":1.13241},{"g":"c1","o":6,"i":313.3,"p":1.13222},{"g":"c1","o":7,"i":313.3,"p":1.13189},{"g":"c1","o":8,"i":308,"p":1.13154},{"g":"c1","o":9,"i":294.7,"p":1.13154},{"g":"c1","o":10,"i":290.5,"p":1.13178},{"g":"c1","o":11,"i":289.2,"p":1.13205},{"g":"c1","o":12,"i":291.3,"p":1.13244},{"g":"c1","o":13,"i":303.8,"p":1.13246},
{"g":"c2","o":1,"i":593,"p":1.13302},{"g":"c2","o":2,"i":595.7,"p":1.1331},{"g":"c2","o":3,"i":602.9,"p":1.13318},{"g":"c2","o":4,"i":607,"p":1.1331},{"g":"c2","o":5,"i":609,"p":1.13288},{"g":"c2","o":6,"i":606,"p":1.13255},{"g":"c2","o":7,"i":601.8,"p":1.13217},{"g":"c2","o":8,"i":594.7,"p":1.13206},{"g":"c2","o":9,"i":587.6,"p":1.13211},{"g":"c2","o":10,"i":584.5,"p":1.13233},{"g":"c2","o":11,"i":585.5,"p":1.13266},{"g":"c2","o":12,"i":588.6,"p":1.13304},{"g":"c2","o":13,"i":593.7,"p":1.13325},{"g":"c2","o":14,"i":602.9,"p":1.13321},
{"g":"c3","o":1,"i":389.6,"p":1.12439},{"g":"c3","o":2,"i":382.5,"p":1.12466},{"g":"c3","o":3,"i":377.2,"p":1.12466},{"g":"c3","o":4,"i":368.2,"p":1.12477},{"g":"c3","o":5,"i":362.9,"p":1.12439},{"g":"c3","o":6,"i":360.7,"p":1.12412},{"g":"c3","o":7,"i":364.7,"p":1.12384},{"g":"c3","o":8,"i":368.2,"p":1.12368},{"g":"c3","o":9,"i":377.2,"p":1.12364},{"g":"c3","o":10,"i":387.9,"p":1.12373},{"g":"c3","o":11,"i":395.9,"p":1.1239},{"g":"c3","o":12,"i":396.4,"p":1.12423},{"g":"c3","o":13,"i":393.2,"p":1.12466},{"g":"c3","o":14,"i":387.9,"p":1.12486},{"g":"c3","o":15,"i":382.5,"p":1.12486},{"g":"c3","o":16,"i":379.8,"p":1.12466},
{"g":"a1","o":1,"i":639.2,"p":1.13085},{"g":"a1","o":2,"i":647.8,"p":1.13134},{"g":"a1","o":3,"i":651.8,"p":1.13156},{"g":"a1","o":4,"i":658,"p":1.13178},{"g":"a1","o":5,"i":668.2,"p":1.13228},{"g":"a1","o":6,"i":678.4,"p":1.13282},{"g":"a1","o":7,"i":686.5,"p":1.13332},{"g":"a1","o":8,"i":691.6,"p":1.13386},{"g":"a1","o":9,"i":692.7,"p":1.13419},{"g":"a1","o":10,"i":696.7,"p":1.13474},{"g":"a1","o":11,"i":701.8,"p":1.13551}]
,"arrows":[{"g":"h1","o":1,"i":695.7,"p":1.13496},{"g":"h1","o":2,"i":701.8,"p":1.13551},{"g":"h1","o":3,"i":704.3,"p":1.13457},
{"g":"t1","o":1,"i":263.2,"p":1.14724},{"g":"t1","o":2,"i":270.2,"p":1.14635},{"g":"h2","o":1,"i":262.2,"p":1.14671},{"g":"h2","o":2,"i":270.2,"p":1.14635},{"g":"h2","o":3,"i":269.7,"p":1.14694},
{"g":"t2","o":1,"i":696.6,"p":1.14031},{"g":"t2","o":2,"i":703.7,"p":1.13896},{"g":"h3","o":1,"i":697.2,"p":1.13939},{"g":"h3","o":2,"i":703.7,"p":1.13896},{"g":"h3","o":3,"i":704.6,"p":1.13962}]
},
"vconcat":[
{"width":1630,"height":760.5,
"encoding":{"x":{"field":"i","type":"quantitative","title":null,"scale":{"domain":[-0.35,814.65],"nice":false,"zero":false},"axis":null},
"y":{"field":"p","type":"quantitative","title":null,"scale":{"domain":[1.122684,1.147667],"nice":false,"zero":false},"axis":{"orient":"right","values":[1.147,1.1459,1.1448,1.1437,1.1426,1.1415,1.1404,1.1393,1.1382,1.1371,1.136,1.1349,1.1338,1.1327,1.1316,1.1305,1.1294,1.1283,1.1272,1.1261,1.125,1.1239,1.1228],"format":".5f","grid":false,"domain":false,"tickSize":4,"tickColor":"#000000","labelColor":"#000000","labelFont":"Liberation Sans","labelFontSize":10,"labelPadding":2}}},
"layer":[
{"data":{"name":"vert"},"mark":{"type":"rule","color":"#000000","strokeWidth":1.2,"strokeDash":[3,3]},"encoding":{"y2":{"field":"q"}}},
{"data":{"name":"prof"},"mark":{"type":"rule","color":"#B4B4C4","strokeWidth":1},"encoding":{"x2":{"field":"j"}}},
{"data":{"values":[{"i":-0.35,"j":814.65,"p":1.13628}]},"mark":{"type":"rule","color":"#8A949E","strokeWidth":1},"encoding":{"x2":{"field":"j"}}},
{"data":{"values":[{"i":766,"j":814.65,"p":1.13615},{"i":790,"j":814.65,"p":1.13604},{"i":806,"j":814.65,"p":1.13594},{"i":775,"j":814.65,"p":1.13584},{"i":769,"j":814.65,"p":1.13574},{"i":784,"j":814.65,"p":1.13555},{"i":800,"j":814.65,"p":1.13575}]},"mark":{"type":"rule","color":"#BDB76B","strokeWidth":1.2},"encoding":{"x2":{"field":"j"}}},
{"data":{"name":"bars"},"mark":{"type":"rule","strokeWidth":1.5},"encoding":{"y2":{"field":"q"},"color":{"field":"c","type":"nominal","scale":{"domain":["g","r"],"range":["#228B22","#FF0000"]},"legend":null}}},
{"data":{"values":[{"i":526,"j":765,"p":1.13712}]},"mark":{"type":"rule","color":"#FFA500","strokeWidth":2},"encoding":{"x2":{"field":"j"}}},
{"data":{"values":[{"i":718,"j":814.65,"p":1.1356}]},"mark":{"type":"rule","color":"#FF0000","strokeWidth":1.5},"encoding":{"x2":{"field":"j"}}},
{"data":{"values":[{"i":162,"j":382.5,"p":1.14628},{"i":-0.35,"j":764,"p":1.13894},{"i":46,"j":764,"p":1.12842}]},"mark":{"type":"rule","color":"#000000","strokeWidth":2.5},"encoding":{"x2":{"field":"j"}}},
{"data":{"values":[{"i":-0.35,"j":37,"p":1.13683},{"i":46,"j":137,"p":1.14114},{"i":142,"j":233,"p":1.13864},{"i":238,"j":334,"p":1.12842},{"i":334,"j":425,"p":1.12661},{"i":430,"j":521,"p":1.12861},{"i":526,"j":617,"p":1.13183},{"i":622,"j":713,"p":1.13713}]},"mark":{"type":"rule","color":"#A0522D","strokeWidth":2},"encoding":{"x2":{"field":"j"}}},
{"data":{"values":[{"i":299.7,"j":656,"p":1.13268,"q":1.13284}]},"mark":{"type":"rule","color":"#000000","strokeWidth":3,"strokeDash":[10,5]},"encoding":{"x2":{"field":"j"},"y2":{"field":"q"}}},
{"data":{"name":"sketch"},"mark":{"type":"line","color":"#000000","strokeWidth":3.5,"interpolate":"catmull-rom","strokeCap":"round"},"encoding":{"detail":{"field":"g"},"order":{"field":"o"}}},
{"data":{"name":"arrows"},"mark":{"type":"line","color":"#000000","strokeWidth":3.5,"strokeCap":"round","strokeJoin":"round"},"encoding":{"detail":{"field":"g"},"order":{"field":"o"}}},
{"data":{"values":[{"i":371.7,"p":1.14692,"t":"на контроль"},{"i":658.2,"p":1.13975,"t":"на контроль"},{"i":455.2,"p":1.13351,"t":"разворот"},{"i":582.5,"p":1.13443,"t":"первая точка"},{"i":582.7,"p":1.13382,"t":"контроля"},{"i":734.7,"p":1.13433,"t":"выход в тренд"}]},"mark":{"type":"text","font":"Liberation Sans","fontSize":18,"color":"#222222","align":"center","baseline":"middle"},"encoding":{"text":{"field":"t"}}},
{"data":{"values":[{"i":6.8,"p":1.14738,"t":"EURUSD,M15"},{"i":1.9,"p":1.14694,"t":"Message Line:"},{"i":1.9,"p":1.14655,"t":"STATUS:\u00a0\u00a0Receiving Real-time data..."},{"i":1.9,"p":1.14611,"t":"1/1/2017\u00a0\u00a0|\u00a0\u00a0M\u00a0\u00a0\u00a0| GMT 6 | EUR | 0.203Kb | 266 ms"},{"i":1.9,"p":1.1457,"t":"D: 1.13560\u00a0\u00a0\u00a0[2697]"},{"i":1.9,"p":1.14527,"t":"S: 1.13560\u00a0\u00a0\u00a0[626]"},{"i":1.9,"p":1.14484,"t":"V|D: 27457 | 10509"},{"i":1.9,"p":1.14441,"t":"A/D: 6194 | A/W: 13487"}]},"mark":{"type":"text","font":"Liberation Sans","fontSize":10.5,"color":"#000000","align":"left","baseline":"middle"},"encoding":{"text":{"field":"t"}}},
{"data":{"values":[{"i":1.7,"p":1.14738,"t":"▼"}]},"mark":{"type":"text","font":"DejaVu Sans","fontSize":7,"color":"#000000","align":"left","baseline":"middle"},"encoding":{"text":{"field":"t"}}},
{"data":{"values":[{"i":91.7,"p":1.14087,"t":"4837"},{"i":187.7,"p":1.13837,"t":"3980"},{"i":283.7,"p":1.12815,"t":"6527"},{"i":379.2,"p":1.12635,"t":"7180"},{"i":475.2,"p":1.12835,"t":"4808"},{"i":571.7,"p":1.13158,"t":"3639"},{"i":667.7,"p":1.13686,"t":"4865"}]},"mark":{"type":"text","font":"Liberation Sans","fontSize":13,"color":"#A8683C","align":"center","baseline":"middle"},"encoding":{"text":{"field":"t"}}},
{"data":{"values":[{"i":778.5,"p":1.12333,"t":"Department of VTS\u00a0\u00a0v.2.0 | 950"},{"i":779.1,"p":1.12294,"t":"Copyright 2015, Golubko Sergey"}]},"mark":{"type":"text","font":"Liberation Serif","fontSize":9.5,"color":"#000000","align":"center","baseline":"middle"},"encoding":{"text":{"field":"t"}}},
{"data":{"values":[{"i":805.7,"p":1.14734,"t":"VOLExpertME"}]},"mark":{"type":"text","font":"Liberation Sans","fontSize":10,"color":"#000000","align":"right","baseline":"middle"},"encoding":{"text":{"field":"t"}}},
{"data":{"values":[{"i":809.6,"p":1.14734,"t":"☹"}]},"mark":{"type":"text","font":"DejaVu Sans","fontSize":13,"color":"#000000","align":"center","baseline":"middle"},"encoding":{"text":{"field":"t"}}},
{"data":{"values":[{"i":651,"p":1.1476,"t":"▼"}]},"mark":{"type":"text","font":"DejaVu Sans","fontSize":8,"color":"#8A8A8A","align":"center","baseline":"middle"},"encoding":{"text":{"field":"t"}}},
{"data":{"values":[{"i":2.2,"j":27.2,"p":1.12336,"q":1.1229}]},"mark":{"type":"rect","fill":"#FFFACD","stroke":"#0000FF","strokeWidth":1.2},"encoding":{"x2":{"field":"j"},"y2":{"field":"q"}}},
{"data":{"values":[{"i":14.6,"p":1.12313,"t":"M e n u"}]},"mark":{"type":"text","font":"Liberation Serif","fontSize":12,"color":"#FF2050","align":"center","baseline":"middle"},"encoding":{"text":{"field":"t"}}},
{"data":{"values":[{"i":815.6,"j":836.2,"p":1.1366,"q":1.136}]},"mark":{"type":"rect","fill":"#000000"},"encoding":{"x2":{"field":"j"},"y2":{"field":"q"}}},
{"data":{"values":[{"i":826,"p":1.13628,"t":"1.13628"}]},"mark":{"type":"text","font":"Liberation Sans","fontSize":10,"fontWeight":"bold","color":"#FFFFFF","align":"center","baseline":"middle"},"encoding":{"text":{"field":"t"}}}
]},
{"width":1630,"height":95,
"encoding":{"x":{"field":"i","type":"quantitative","title":null,"scale":{"domain":[-0.35,814.65],"nice":false,"zero":false,"padding":0},"axis":{"orient":"bottom","values":[0,32,64,96,128,160,192,224,256,288,320,352,384,416,448,480,512,544,576,608,640,672,704,736],"labelExpr":"['8 Apr 2016','8 Apr 20:30','11 Apr 04:30','11 Apr 12:30','11 Apr 20:30','12 Apr 04:30','12 Apr 12:30','12 Apr 20:30','13 Apr 04:30','13 Apr 12:30','13 Apr 20:30','14 Apr 04:30','14 Apr 12:30','14 Apr 20:30','15 Apr 04:30','15 Apr 12:30','15 Apr 20:30','18 Apr 04:30','18 Apr 12:30','18 Apr 20:30','19 Apr 04:30','19 Apr 12:30','19 Apr 20:30','20 Apr 04:30'][datum.value/32]","labelAlign":"left","labelBound":false,"labelFlush":false,"labelOverlap":false,"grid":false,"domain":false,"tickSize":3,"tickColor":"#000000","labelColor":"#000000","labelFont":"Liberation Sans","labelFontSize":10,"labelPadding":2}},
"y":{"field":"v","type":"quantitative","title":null,"scale":{"domain":[0,18564],"nice":false},"axis":{"orient":"right","values":[0,17484.6],"format":".1~f","grid":false,"domain":false,"tickSize":3,"tickColor":"#000000","labelColor":"#000000","labelFont":"Liberation Sans","labelFontSize":10,"labelPadding":2,"labelBaseline":{"condition":{"test":"datum.value==0","value":"bottom"},"value":"middle"}}}},
"layer":[
{"data":{"name":"vert"},"mark":{"type":"rule","color":"#000000","strokeWidth":1.2,"strokeDash":[3,3]},"encoding":{"y2":{"field":"w"}}},
{"data":{"name":"bars"},"mark":{"type":"bar","size":4},"encoding":{"color":{"field":"c","type":"nominal","scale":{"domain":["g","r"],"range":["#228B22","#FF0000"]},"legend":null}}},
{"data":{"values":[{"i":1.7,"v":16770,"t":"ClusterX Volume (www.trend-lab.ru) Candle Colored 1820.0000 0.0000"}]},"mark":{"type":"text","font":"Liberation Sans","fontSize":9.5,"color":"#000000","align":"left","baseline":"middle"},"encoding":{"text":{"field":"t"}}},
{"data":{"values":[{"i":-0.35,"j":837.5,"v":-4095,"w":-4350}]},"mark":{"type":"rect","fill":"#D8D4C8"},"encoding":{"x2":{"field":"j"},"y2":{"field":"w"}}}
]}
]}
